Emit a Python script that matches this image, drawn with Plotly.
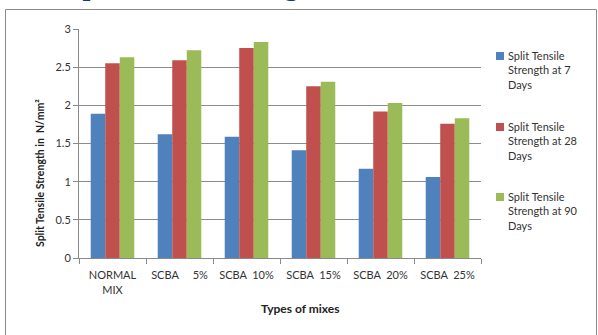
import plotly.graph_objects as go

# Mix types on the category axis (non-breaking spaces keep the label spacing)
mixes = ["NORMAL<br>MIX", "SCBA\u00a0\u00a0\u00a0\u00a0\u00a05%", "SCBA\u00a0\u00a010%",
         "SCBA\u00a0\u00a015%", "SCBA\u00a0\u00a020%", "SCBA\u00a0\u00a025%"]

# Split tensile strength (N/mm²)
strength_7d = [1.89, 1.62, 1.59, 1.41, 1.17, 1.06]
strength_28d = [2.55, 2.59, 2.75, 2.25, 1.92, 1.76]
strength_90d = [2.63, 2.72, 2.83, 2.31, 2.03, 1.83]

series_names = ["Split Tensile<br>Strength at 7<br>Days",
                "Split Tensile<br>Strength at 28<br>Days",
                "Split Tensile<br>Strength at 90<br>Days"]
series_colors = ["#4F81BD", "#C0504D", "#9BBB59"]

y_ticks = [0, 0.5, 1, 1.5, 2, 2.5, 3]
y_ticktext = ["0", "0.5", "1", "1.5", "2", "2.5", "3"]

W, H = 598, 335
L, R, T, B = 79, 117, 29, 77
pw, ph = W - L - R, H - T - B


def px(x):
    return (x - L) / pw


def py(y):
    return (H - B - y) / ph


FONT = "Lato"
fig = go.Figure()
for name, vals, col in zip(series_names, [strength_7d, strength_28d, strength_90d],
                           series_colors):
    fig.add_trace(go.Bar(
        x=mixes, y=vals, name=name, showlegend=False,
        marker=dict(color=col, line=dict(width=0)),
    ))

fig.update_layout(
    width=W, height=H,
    margin=dict(l=L, r=R, t=T, b=B, pad=0, autoexpand=False),
    paper_bgcolor="white", plot_bgcolor="white",
    barmode="group", bargap=0.35, bargroupgap=0,
    font=dict(family=FONT, size=11, color="#333333"),
    showlegend=False,
    xaxis=dict(
        type="category", showgrid=False, showline=True, linecolor="#8a8a8a",
        ticks="outside", tickson="boundaries", ticklen=5, tickcolor="#8a8a8a",
        tickangle=0, ticklabelstandoff=7,
        tickfont=dict(family=FONT, size=11, color="#333333"),
    ),
    yaxis=dict(
        range=[0, 3], tickvals=y_ticks, ticktext=y_ticktext,
        showgrid=True, gridcolor="#8c8c8c", gridwidth=1,
        showline=True, linecolor="#8a8a8a", ticks="outside", ticklen=5,
        tickcolor="#8a8a8a", zeroline=False,
        tickfont=dict(family=FONT, size=11, color="#333333"),
    ),
)

# Legend: small colour keys with wrapped labels beside them
legend_first_line = [56, 127, 197]
for name, col, yc in zip(series_names, series_colors, legend_first_line):
    fig.add_shape(type="rect", xref="paper", yref="paper",
                  x0=px(496), x1=px(504), y0=py(yc + 4), y1=py(yc - 4),
                  line=dict(width=0), fillcolor=col)
    fig.add_annotation(text=name, align="left",
                       xref="paper", yref="paper", x=px(506), y=py(yc - 9),
                       xanchor="left", yanchor="top", showarrow=False,
                       font=dict(family=FONT, size=11, color="#333333"))

# Axis titles
fig.add_annotation(text="<b>Split Tensile Strength in  N/mm²</b>", textangle=-90,
                   xref="paper", yref="paper", x=px(40), y=py(173),
                   xanchor="center", yanchor="middle", showarrow=False,
                   font=dict(family=FONT, size=10.5, color="#222222"))
fig.add_annotation(text="<b>Types of mixes</b>",
                   xref="paper", yref="paper", x=px(300), y=py(308),
                   xanchor="center", yanchor="middle", showarrow=False,
                   font=dict(family=FONT, size=12, color="#222222"))

# Heading above the chart frame
fig.add_annotation(text="<b>Split Tensile Strength</b>",
                   xref="paper", yref="paper", x=px(65), y=py(3.5),
                   xanchor="left", yanchor="bottom", showarrow=False,
                   font=dict(family="Liberation Serif", size=28, color="#17329A"))

# Chart frame
fig.add_shape(type="rect", xref="paper", yref="paper",
              x0=px(5.5), x1=px(596.5), y0=py(345), y1=py(9.5),
              line=dict(color="#8a8a8a", width=1), fillcolor="rgba(0,0,0,0)", layer="below")

fig.write_html("out.html")
